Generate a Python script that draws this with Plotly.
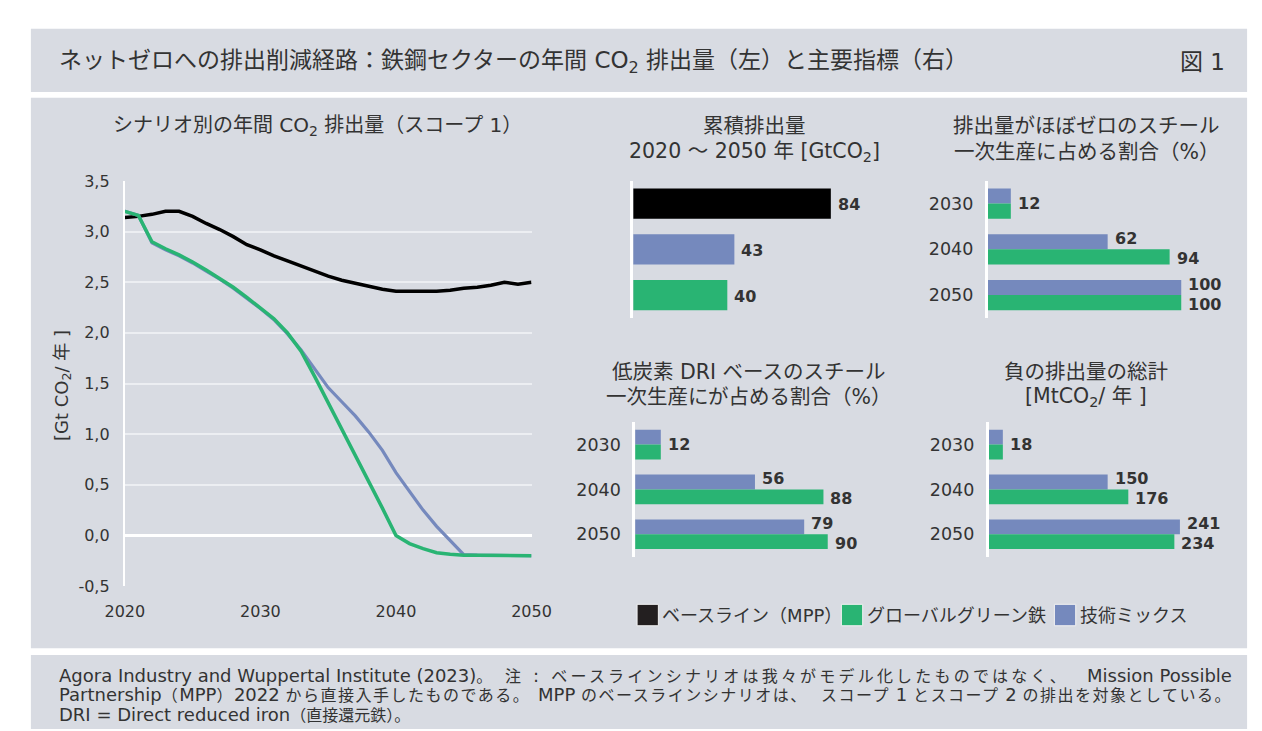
import plotly.graph_objects as go

W, H = 1262, 731
BG = "#D8DBE2"
GRID = "#ECEEF2"
TXT = "#333333"
BLACK = "#000000"
LEG_BLACK = "#231F20"
GREEN = "#29B473"
BLUE = "#7589BD"
FONT = "DejaVu Sans, Noto Sans CJK JP, sans-serif"

# ---------------- data ----------------
years = list(range(2020, 2051))
baseline_mpp = [3.14, 3.15, 3.17, 3.20, 3.20, 3.15, 3.08, 3.02, 2.95, 2.87,
                2.82, 2.76, 2.71, 2.66, 2.61, 2.56, 2.52, 2.49, 2.46, 2.43,
                2.41, 2.41, 2.41, 2.41, 2.42, 2.44, 2.45, 2.47, 2.50, 2.48, 2.50]
global_green_iron = [3.20, 3.16, 2.90, 2.83, 2.77, 2.70, 2.62, 2.54, 2.45, 2.35,
                     2.25, 2.14, 2.00, 1.82, 1.57, 1.31, 1.05, 0.80, 0.53, 0.27,
                     0.00, -0.08, -0.13, -0.17, -0.185, -0.195, -0.195, -0.195, -0.195, -0.20, -0.20]
tech_mix = [3.20, 3.16, 2.89, 2.82, 2.76, 2.69, 2.61, 2.53, 2.44, 2.34,
            2.24, 2.13, 1.99, 1.83, 1.65, 1.46, 1.32, 1.18, 1.02, 0.84,
            0.62, 0.43, 0.25, 0.09, -0.05, -0.19, -0.195, -0.195, -0.195, -0.20, -0.20]

y_ticks = [-0.5, 0.0, 0.5, 1.0, 1.5, 2.0, 2.5, 3.0, 3.5]
y_ticklabels = ["-0,5", "0,0", "0,5", "1,0", "1,5", "2,0", "2,5", "3,0", "3,5"]
x_ticks = [2020, 2030, 2040, 2050]

cum_scenarios = ["ベースライン（MPP）", "技術ミックス", "グローバルグリーン鉄"]
cum_values = [84, 43, 40]

indicator_years = ["2030", "2040", "2050"]
nearzero_techmix = [12, 62, 100]
nearzero_green = [12, 94, 100]
dri_techmix = [12, 56, 79]
dri_green = [12, 88, 90]
negative_techmix = [18, 150, 241]
negative_green = [18, 176, 234]

legend_names = ["ベースライン（MPP）", "グローバルグリーン鉄", "技術ミックス"]
legend_colors = [LEG_BLACK, GREEN, BLUE]


def px(x):
    return x / W


def py(y):
    return 1 - y / H


fig = go.Figure()

# ---------------- line chart ----------------
fig.add_trace(go.Scatter(x=years, y=baseline_mpp, mode="lines", name=legend_names[0],
                         line=dict(color=BLACK, width=3.5), xaxis="x", yaxis="y"))
fig.add_trace(go.Scatter(x=years, y=tech_mix, mode="lines", name=legend_names[2],
                         line=dict(color=BLUE, width=3.2), xaxis="x", yaxis="y"))
fig.add_trace(go.Scatter(x=years, y=global_green_iron, mode="lines", name=legend_names[1],
                         line=dict(color=GREEN, width=3.5), xaxis="x", yaxis="y"))

# ---------------- bar charts ----------------
pos = list(range(len(indicator_years)))
HALF = 0.33

fig.add_trace(go.Bar(y=list(range(len(cum_scenarios))), x=cum_values, orientation="h",
                     width=2 * HALF, marker=dict(color=[BLACK, BLUE, GREEN], line=dict(width=0)),
                     xaxis="x2", yaxis="y2"))

panels = [
    ("x3", "y3", nearzero_techmix, nearzero_green),
    ("x4", "y4", dri_techmix, dri_green),
    ("x5", "y5", negative_techmix, negative_green),
]
for xa, ya, tm, gg in panels:
    fig.add_trace(go.Bar(y=pos, x=tm, orientation="h", width=HALF, offset=-HALF,
                         marker=dict(color=BLUE, line=dict(width=0)), xaxis=xa, yaxis=ya))
    fig.add_trace(go.Bar(y=pos, x=gg, orientation="h", width=HALF, offset=0,
                         marker=dict(color=GREEN, line=dict(width=0)), xaxis=xa, yaxis=ya))

annotations = []
LBL = dict(family="DejaVu Sans", size=16, color=TXT, weight="bold")

for i, v in enumerate(cum_values):
    annotations.append(dict(x=v, y=i, xref="x2", yref="y2", text=str(v), showarrow=False,
                            xanchor="left", yanchor="middle", xshift=5, yshift=-1, font=LBL))

for xa, ya, tm, gg in panels:
    for i in pos:
        if i == 0 and tm[i] == gg[i]:
            annotations.append(dict(x=tm[i], y=i, xref=xa, yref=ya, text=str(tm[i]),
                                    showarrow=False, xanchor="left", yanchor="middle",
                                    xshift=5, font=LBL))
        else:
            annotations.append(dict(x=tm[i], y=i - HALF / 2, xref=xa, yref=ya, text=str(tm[i]),
                                    showarrow=False, xanchor="left", yanchor="middle",
                                    xshift=5, yshift=3, font=LBL))
            annotations.append(dict(x=gg[i], y=i + HALF / 2, xref=xa, yref=ya, text=str(gg[i]),
                                    showarrow=False, xanchor="left", yanchor="middle",
                                    xshift=5, yshift=-2, font=LBL))


def text(x, y, s, size, anchor="center", angle=0, color=TXT):
    annotations.append(dict(x=px(x), y=py(y), xref="paper", yref="paper", text=s,
                            showarrow=False, xanchor=anchor, yanchor="middle",
                            textangle=angle, font=dict(family=FONT, size=size, color=color)))


# titles
text(30, 46, "ネットゼロへの排出削減経路：鉄鋼セクターの年間 CO<sub>2</sub> 排出量（左）と主要指標（右）", 23, "left")
text(1238, 46, "図 1", 23, "right")
text(299, 112, "シナリオ別の年間 CO<sub>2</sub> 排出量（スコープ 1）", 20)
text(750, 112, "累積排出量", 20.5)
text(750, 139, "2020 ～ 2050 年 [GtCO<sub>2</sub>]", 20.5)
text(1093, 112, "排出量がほぼゼロのスチール", 20.5)
text(1093, 139, "一次生産に占める割合（%）", 20.5)
text(745, 364, "低炭素 DRI ベースのスチール", 20.5)
text(745, 390, "一次生産にが占める割合（%）", 20.5)
text(1093, 364, "負の排出量の総計", 20.5)
text(1093, 390, "[MtCO<sub>2</sub>/ 年 ]", 20.5)
text(36, 378, "[Gt CO<sub>2</sub>/ 年 ]", 18, angle=-90)


# footer: Latin at 18px, Japanese at 16px, justified lines approximated by segments
def cj(s, ls=0):
    st = "font-size:16px"
    if ls:
        st += ";letter-spacing:%.1fpx" % ls
    return '<span style="%s">%s</span>' % (st, s)


FS = 18
text(30, 676, "Agora Industry and Wuppertal Institute (2023)" + cj("。"), FS, "left")
text(491, 676, cj("注", 3.2) + '<span style="letter-spacing:3.2px"> : </span>'
     + cj("ベースラインシナリオは我々がモデル化したものではなく、", 3.2), FS, "left")
text(1245, 676, "Mission Possible", FS, "right")
L2 = 1.5
text(30, 696, "Partnership" + cj("（", L2) + "MPP" + cj("）", L2) + "2022 "
     + cj("から直接入手したものである。", L2), FS, "left")
text(666, 696, "MPP " + cj("のベースラインシナリオは、", L2), FS, "center")
text(1245, 696, cj("スコープ", L2) + " 1 " + cj("とスコープ", L2) + " 2 "
     + cj("の排出を対象としている。", L2), FS, "right")
text(30, 716, "DRI = Direct reduced iron" + cj("（直接還元鉄）。"), FS, "left")

# legend
shapes = []
leg_x = [629, 840, 1060]
for lx, name, col in zip(leg_x, legend_names, legend_colors):
    shapes.append(dict(type="rect", xref="paper", yref="paper", x0=px(lx), x1=px(lx + 22),
                       y0=py(625), y1=py(603), fillcolor=col, line=dict(color="#F2F2F2", width=1)))
    text(lx + 24, 614, name, 18, "left")

# background panels
for (x0, y0, x1, y1) in [(3, 12, 1259, 77), (3, 83, 1259, 648), (3, 655, 1259, 731)]:
    shapes.insert(0, dict(type="rect", xref="paper", yref="paper", x0=px(x0), x1=px(x1),
                          y0=py(y1), y1=py(y0), fillcolor=BG, line=dict(width=0), layer="below"))

tickfont = dict(family="DejaVu Sans", size=16, color=TXT)
catfont = dict(family="DejaVu Sans", size=17.5, color=TXT)

bar_y_common = dict(range=[2.5, -0.5], showgrid=False, zeroline=False, showline=True,
                    linecolor="white", linewidth=2.5, ticks="", fixedrange=True)
bar_x_common = dict(visible=False, showgrid=False, zeroline=False, fixedrange=True)

fig.update_layout(
    width=W, height=H,
    margin=dict(l=0, r=0, t=0, b=0),
    paper_bgcolor="white",
    plot_bgcolor="rgba(0,0,0,0)",
    showlegend=False,
    barmode="overlay",
    font=dict(family=FONT, color=TXT),
    xaxis=dict(domain=[px(100), px(520)], range=[2020, 2050], tickvals=x_ticks,
               showgrid=False, zeroline=False, showline=False, ticks="",
               tickfont=tickfont, anchor="y", ticklabelstandoff=14),
    yaxis=dict(domain=[py(584.3), py(168.3)], range=[-0.5, 3.5], tickvals=y_ticks,
               ticktext=y_ticklabels, showgrid=True, gridcolor=GRID, gridwidth=1.5,
               zeroline=True, zerolinecolor="white", zerolinewidth=2.5,
               showline=True, linecolor="white", linewidth=2, ticks="",
               tickfont=tickfont, anchor="x", ticklabelstandoff=10),
    xaxis2=dict(domain=[px(625), px(625 + 2.43 * 100)], range=[0, 100], anchor="y2", **bar_x_common),
    yaxis2=dict(domain=[py(309), py(168)], anchor="x2", showticklabels=False, **bar_y_common),
    xaxis3=dict(domain=[px(991), px(991 + 2.0 * 110)], range=[0, 110], anchor="y3", **bar_x_common),
    yaxis3=dict(domain=[py(309), py(168)], anchor="x3", tickvals=pos, ticktext=indicator_years,
                tickfont=catfont, ticklabelstandoff=8, **bar_y_common),
    xaxis4=dict(domain=[px(627), px(627 + 2.21 * 100)], range=[0, 100], anchor="y4", **bar_x_common),
    yaxis4=dict(domain=[py(554), py(416)], anchor="x4", tickvals=pos, ticktext=indicator_years,
                tickfont=catfont, ticklabelstandoff=8, **bar_y_common),
    xaxis5=dict(domain=[px(992), px(992 + 0.82 * 300)], range=[0, 300], anchor="y5", **bar_x_common),
    yaxis5=dict(domain=[py(554), py(416)], anchor="x5", tickvals=pos, ticktext=indicator_years,
                tickfont=catfont, ticklabelstandoff=8, **bar_y_common),
    annotations=annotations,
    shapes=shapes,
)

fig.write_html("out.html")
